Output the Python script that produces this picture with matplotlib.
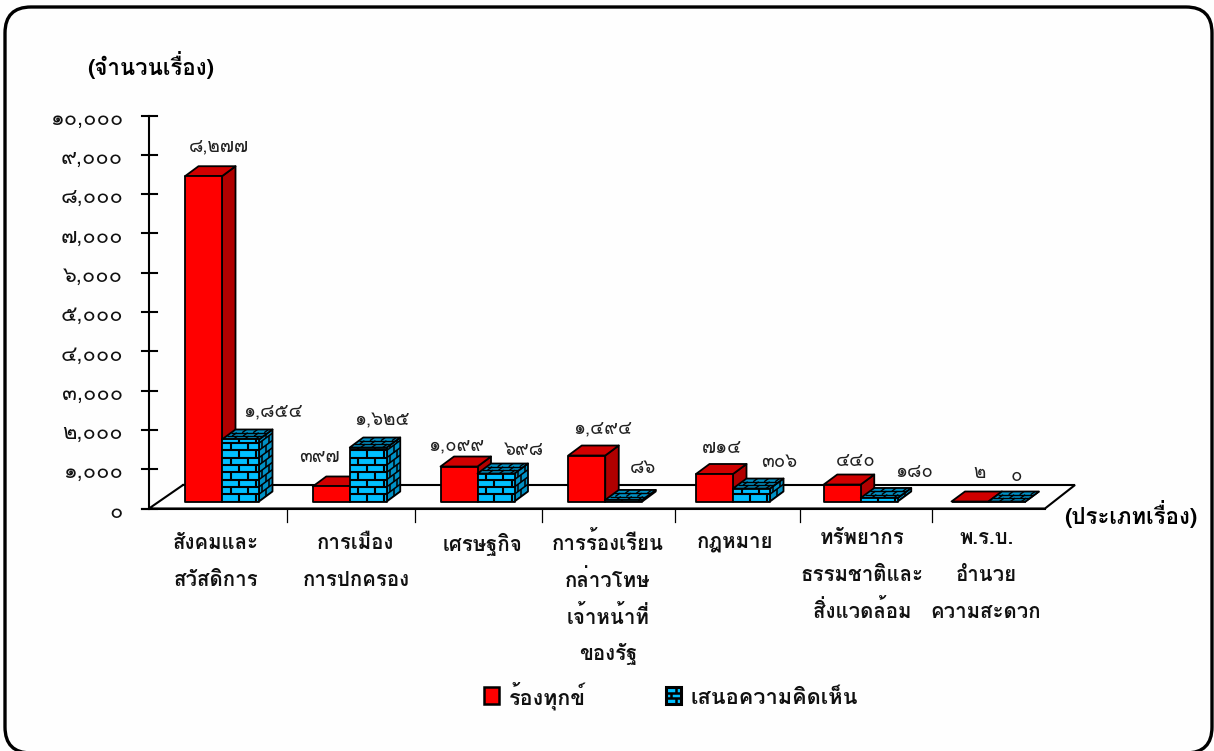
import matplotlib
matplotlib.use('Agg')
import matplotlib.pyplot as plt
from matplotlib.patches import Polygon, FancyBboxPatch, Rectangle
from matplotlib.collections import LineCollection
from matplotlib.transforms import Affine2D

plt.rcParams['font.family'] = ['Loma', 'Noto Sans Thai', 'DejaVu Sans']

W, H = 1214, 751
# data
categories = [['สังคมและ', 'สวัสดิการ'], ['การเมือง', 'การปกครอง'], ['เศรษฐกิจ'],
              ['การร้องเรียน', 'กล่าวโทษ', 'เจ้าหน้าที่', 'ของรัฐ'], ['กฎหมาย'],
              ['ทรัพยากร', 'ธรรมชาติและ', 'สิ่งแวดล้อม'], ['พ.ร.บ.', 'อำนวย', 'ความสะดวก']]
cat_x = [216, 356, 482, 608, 735, 862, 986]
cat_base = [549, 549, 551, 550, 548, 544, 544]
red_values = [8277, 382, 890, 1170, 700, 432, 0]
blue_values = [1578, 1374, 712, 40, 330, 90, 0]
red_labels = ['๘,๒๗๗', '๓๙๗', '๑,๐๙๙', '๑,๔๙๔', '๗๑๔', '๔๔๐', '๒']
blue_labels = ['๑,๘๕๔', '๑,๖๒๕', '๖๙๘', '๘๖', '๓๐๖', '๑๘๐', '๐']
red_label_xy = [(219, 146), (319, 457), (456, 445), (603, 428), (722, 448), (856, 461), (980, 473)]
blue_label_xy = [(273, 411), (382, 420), (524, 450), (643, 468), (779, 462), (914, 472), (1016, 476)]
y_ticks = list(range(0, 10001, 1000))
y_tick_labels = ['๐', '๑,๐๐๐', '๒,๐๐๐', '๓,๐๐๐', '๔,๐๐๐', '๕,๐๐๐', '๖,๐๐๐', '๗,๐๐๐', '๘,๐๐๐', '๙,๐๐๐', '๑๐,๐๐๐']
sep_px = [287, 415, 542, 675, 800, 932]

PX_X = 127.75      # pixels per category
PX_Y = 0.0393      # pixels per value unit
X0, Y0 = 222, 508.5

fig = plt.figure(figsize=(W / 100, H / 100), dpi=100, facecolor='#FEFEFE')
ax = fig.add_axes([0, 0, 1, 1])
ax.set_xlim(-X0 / PX_X, (W - X0) / PX_X)
ax.set_ylim(-(H - Y0) / PX_Y, Y0 / PX_Y)
ax.axis('off')

def dx(p): return p / PX_X
def dy(p): return p / PX_Y
def xpx(p): return (p - X0) / PX_X
def ypx(p): return (Y0 - p) / PX_Y
def ftext(x, y, s, size, **kw):
    fig.text(x / W, 1 - y / H, s, fontsize=size, ha=kw.pop('ha', 'center'), va=kw.pop('va', 'center'), **kw)

# frame
frame = FancyBboxPatch((5, -2), 1207, 746, boxstyle='round,pad=0,rounding_size=26',
                       fc='#FEFEFE', ec='black', lw=2.4, transform=Affine2D(), zorder=-5)
fig.add_artist(frame)

BW, DX, DY, LIFT = 37, 13.5, 10, 7

def poly(pts, fc, z, lw=1.3):
    p = Polygon([(a, b) for a, b in pts], closed=True, fc=fc, ec='black', lw=lw, zorder=z, joinstyle='round')
    ax.add_patch(p)
    return p

def bricks(org, u, v, ulen, vlen, rowh, bw, patch, z, lw=1.1, color='black'):
    segs = []
    def P(a, b):
        return (org[0] + a * u[0] + b * v[0], org[1] + a * u[1] + b * v[1])
    r, b = 0, 0.0
    while b < vlen:
        segs.append([P(0, b), P(ulen, b)])
        a = (bw / 2) if r % 2 else bw
        while a < ulen:
            segs.append([P(a, b), P(a, min(b + rowh, vlen))])
            a += bw
        b += rowh
        r += 1
    lc = LineCollection(segs, colors=color, linewidths=lw, zorder=z)
    ax.add_collection(lc)
    lc.set_clip_path(patch)

def box(left, value, front, side, top, z, brick=False):
    x0 = xpx(left); x1 = xpx(left + BW)
    yb = ypx(Y0 - LIFT); yt = yb + value
    ox, oy = dx(DX), dy(DY)
    s = poly([(x1, yb), (x1 + ox, yb + oy), (x1 + ox, yt + oy), (x1, yt)], side, z)
    t = poly([(x0, yt), (x1, yt), (x1 + ox, yt + oy), (x0 + ox, yt + oy)], top, z)
    f = poly([(x0, yb), (x1, yb), (x1, yt), (x0, yt)], front, z)
    if brick:
        hv = value * PX_Y
        if hv > 0.5:
            bricks((x0, yb), (dx(1), 0), (0, dy(1)), BW, hv, 7.3, 17, f, z + 0.1, lw=1.5)
            bricks((x1, yb), (ox / 16, oy / 16), (0, dy(1)), 16, hv, 7.3, 8, s, z + 0.1, lw=1.1)
        bricks((x0, yt), (dx(1), 0), (ox / 10, oy / 10), BW, 10, 3.4, 11, t, z + 0.1, lw=1.0)

# floor
floor_x = [xpx(183), xpx(1075), xpx(1045), xpx(149)]
floor_y = [ypx(485), ypx(485), ypx(508.5), ypx(508.5)]
ax.plot(floor_x + floor_x[:1], floor_y + floor_y[:1], color='black', lw=1.5, zorder=1, solid_joinstyle='miter')
ax.plot([xpx(142), xpx(1045)], [0, 0], color='black', lw=1.5, zorder=1)
for s in sep_px:
    ax.plot([xpx(s), xpx(s)], [ypx(508.5), ypx(522)], color='black', lw=0.9, zorder=1)

# y axis
ax.plot([xpx(149), xpx(149)], [0, y_ticks[-1]], color='black', lw=1.5, zorder=6)
for v, lab in zip(y_ticks, y_tick_labels):
    ax.plot([xpx(142), xpx(157)], [v, v], color='black', lw=1.5, zorder=6)
    fig.text(123 / W, 1 - (Y0 + 3.5 - v * PX_Y) / H, lab, fontsize=15.7, ha='right', va='center', color='#111111')

# bars
for i, (r, b) in enumerate(zip(red_values, blue_values)):
    bx = X0 + PX_X * i
    z = 10 + i * 2
    box(bx - BW, r, '#FF0000', '#B00000', '#D00000', z)
    box(bx, b, '#00BFFF', '#0090C4', '#0090C4', z + 1, brick=True)

# value labels
for (x, y), s in zip(red_label_xy, red_labels):
    ftext(x, y, s, 13.5, color='#222222')
for (x, y), s in zip(blue_label_xy, blue_labels):
    ftext(x, y, s, 13.5, color='#222222')

# category labels
for lines, x, y in zip(categories, cat_x, cat_base):
    for j, line in enumerate(lines):
        ftext(x, y + j * 36.8, line, 14.7, weight='bold', color='#111111', va='baseline')

ftext(151, 75, '(จำนวนเรื่อง)', 16, weight='bold', va='baseline')
ftext(1131, 524, '(ประเภทเรื่อง)', 16, weight='bold', va='baseline')

# legend
ax.add_patch(Rectangle((xpx(484), ypx(704)), dx(15), dy(17), fc='#FF0000', ec='black', lw=1.8, zorder=30))
ftext(509, 704, 'ร้องทุกข์', 15.5, weight='bold', ha='left', color='#111111', va='baseline')
sw = Rectangle((xpx(666), ypx(704)), dx(15), dy(17), fc='#00BFFF', ec='black', lw=2.2, zorder=30)
ax.add_patch(sw)
bricks((xpx(666), ypx(704)), (dx(1), 0), (0, dy(1)), 15, 17, 5.7, 10, sw, 31, lw=1.8)
ftext(691, 704, 'เสนอความคิดเห็น', 15.7, weight='bold', ha='left', color='#111111', va='baseline')

fig.savefig('out.png', dpi=100, facecolor=fig.get_facecolor())
